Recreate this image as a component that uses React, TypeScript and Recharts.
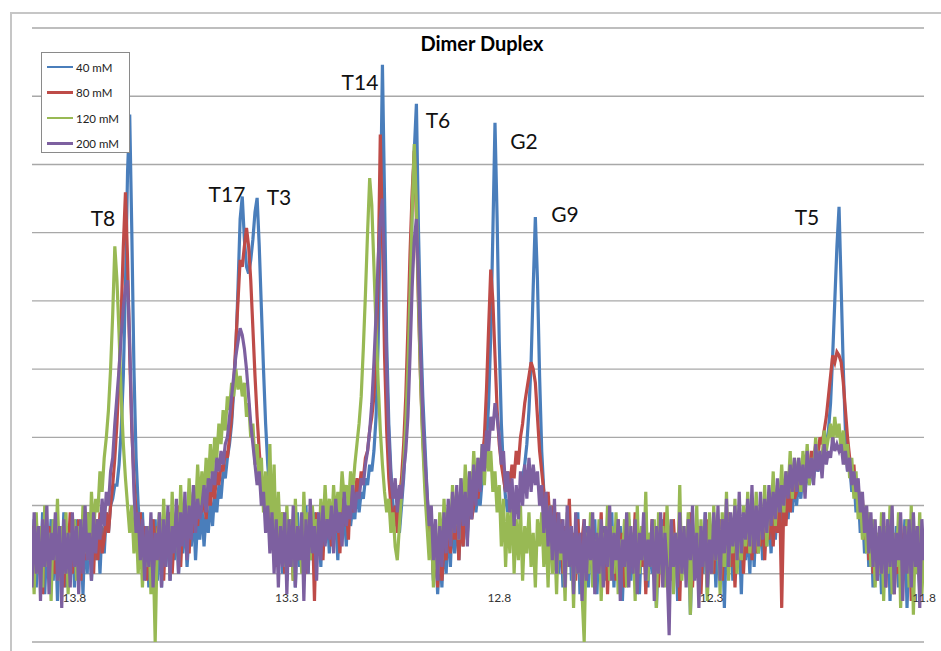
import { LineChart, Line, XAxis, YAxis, CartesianGrid } from 'recharts'

// chemical shift grid, ppm (13.900 -> 11.800, 0.005 step)
const shiftStart = 13.9
const shiftStep = 0.005

// intensities; each row covers 0.1 ppm
const c40 = [
  0.1, 0.8, -0.2, 0.6, 0.0, 0.9, -0.3, 0.5, 0.2, 0.8, -0.1, 0.7, -0.4, 0.6, 0.1, 0.9, -0.2, 0.5, 0.0, 0.7,
  -0.2, 0.8, 0.1, 0.6, -0.3, 0.7, 0.0, 0.9, -0.1, 0.6, 0.2, 0.8, 0.0, 0.7, 0.3, 0.9, 0.6, 1.0, 1.1, 1.3,
  1.3, 1.6, 2.1, 2.9, 4.2, 5.9, 6.73, 5.0, 3.0, 1.7, 1.0, 0.6, 0.9, 0.1, 0.7, -0.2, 0.6, 0.0, 0.8, -0.1,
  0.7, -0.2, 0.6, 0.1, 0.9, -0.1, 0.5, 0.2, 0.8, 0.0, 0.7, 0.3, 0.9, 0.1, 0.6, 0.4, 1.0, 0.2, 0.8, 0.5,
  1.0, 0.4, 0.9, 0.6, 1.1, 0.7, 1.2, 0.9, 1.3, 1.1, 1.5, 1.4, 1.7, 1.9, 2.2, 2.7, 3.3, 4.2, 5.2, 5.53,
  4.9, 4.5, 4.4, 4.6, 4.9, 5.3, 5.51, 4.8, 3.9, 3.0, 2.2, 1.6, 1.2, 0.9, 0.5, 0.9, 0.2, 0.8, 0.0, 0.7,
  -0.1, 0.8, 0.2, 0.7, -0.2, 0.9, 0.1, 0.6, 0.3, 1.0, 0.0, 0.7, 0.2, 0.9, 0.4, 0.8, 0.1, 1.0, 0.5, 0.9,
  0.3, 1.0, 0.5, 0.8, 0.2, 1.1, 0.6, 0.9, 0.4, 1.2, 0.7, 1.0, 0.8, 1.3, 0.9, 1.2, 1.1, 1.4, 1.3, 1.6,
  1.5, 1.8, 2.3, 3.4, 5.2, 7.46, 5.5, 3.4, 2.2, 1.5, 1.0, 0.7, 0.9, 0.6, 1.0, 1.4, 2.0, 2.8, 3.9, 5.4,
  6.2, 6.89, 5.0, 3.6, 2.6, 1.9, 1.2, 0.6, 0.6, -0.1, 0.5, -0.3, 0.4, -0.2, 0.6, 0.0, 0.8, 0.1, 0.9, 0.3,
  0.9, 0.2, 1.0, 0.4, 1.1, 0.5, 1.2, 0.8, 1.3, 0.9, 1.2, 1.0, 1.4, 1.6, 1.9, 2.5, 3.5, 5.0, 6.61, 5.2,
  3.4, 2.2, 1.5, 1.1, 0.9, 1.2, 0.8, 1.1, 0.9, 1.2, 1.1, 1.4, 1.6, 1.9, 2.4, 3.1, 4.2, 5.23, 4.3, 2.9,
  1.8, 1.2, 0.8, 1.0, 0.4, 0.9, 0.2, 0.8, 0.0, 0.7, -0.2, 0.6, 0.1, 0.8, -0.1, 0.5, 0.2, 0.9, -0.3, 0.6,
  0.0, 0.7, -0.2, 0.5, 0.1, 0.8, -0.3, 0.6, 0.2, 0.7, -0.1, 0.5, 0.0, 0.9, -0.2, 0.6, 0.1, 0.7, -0.4, 0.5,
  0.2, 0.8, -0.1, 0.6, 0.0, 0.7, -0.3, 0.5, 0.1, 0.9, -0.2, 0.6, 0.0, 0.7, -0.5, 0.4, 0.2, 0.8, -0.1, 0.6,
  -0.2, 0.7, 0.1, 0.5, -0.4, 0.8, 0.0, 0.6, 0.2, 0.7, -0.6, 0.5, 0.1, 0.8, -0.1, 0.6, 0.0, 0.9, -0.3, 0.5,
  0.1, 0.7, -0.2, 0.6, 0.0, 0.8, -0.5, 0.6, 0.2, 0.7, -0.1, 0.9, 0.1, 0.6, -0.3, 0.8, 0.2, 0.7, 0.0, 0.9,
  0.1, 0.8, 0.3, 0.9, 0.2, 1.0, 0.4, 0.9, 0.3, 1.1, 0.5, 1.0, 0.6, 1.2, 0.7, 1.1, 0.8, 1.3, 0.9, 1.4,
  1.0, 1.4, 1.1, 1.5, 1.2, 1.6, 1.3, 1.5, 1.4, 1.7, 1.5, 1.6, 1.7, 1.8, 1.9, 2.1, 2.5, 3.2, 4.0, 4.8,
  5.38, 4.2, 3.0, 2.1, 1.5, 1.6, 1.2, 1.4, 0.9, 1.2, 0.6, 1.0, 0.3, 0.9, 0.1, 0.8, -0.2, 0.7, 0.0, 0.6,
  -0.3, 0.6, 0.1, 0.8, -0.4, 0.5, 0.0, 0.7, -0.2, 0.6, 0.1, 0.8, -0.5, 0.4, -0.1, 0.7, 0.0, 0.5, -0.3, 0.6,
  0.2
]

const c80 = [
  0.7, -0.1, 0.8, 0.1, 0.6, -0.3, 0.9, 0.2, 0.7, -0.2, 0.5, 0.0, 0.8, 0.1, 0.6, -0.2, 0.7, 0.3, 0.9, 0.0,
  0.6, 0.1, 0.8, -0.1, 0.7, 0.2, 0.9, 0.3, 0.6, 0.0, 0.8, 0.2, 0.9, 0.3, 0.5, 0.9, 0.6, 1.0, 1.3, 1.7,
  2.2, 2.9, 3.8, 4.8, 5.59, 4.6, 3.2, 2.1, 1.4, 0.9, 0.5, 0.9, 0.1, 0.7, -0.1, 0.6, 0.2, 0.8, 0.0, 0.7,
  0.2, 0.8, -0.1, 0.7, 0.3, 0.9, 0.0, 0.6, 0.4, 1.0, 0.1, 0.8, 0.5, 0.9, 0.3, 1.0, 0.6, 1.1, 0.7, 1.2,
  0.9, 1.2, 0.8, 1.3, 1.0, 1.4, 1.1, 1.5, 1.3, 1.6, 1.5, 1.8, 1.7, 2.0, 2.3, 2.8, 3.4, 4.0, 4.6, 4.5,
  4.8, 5.07, 4.8, 4.3, 3.6, 2.9, 2.3, 1.8, 1.4, 1.0, 1.3, 0.7, 1.0, 0.4, 0.8, 0.1, 0.7, 0.2, 0.9, 0.0,
  0.8, 0.1, 0.7, -0.1, 0.9, 0.2, 0.6, 0.3, 1.0, 0.0, 0.7, 0.4, 0.8, -0.4, 0.9, 0.5, 0.7, 0.2, 1.0, 0.6,
  0.9, 0.4, 1.1, 0.6, 0.8, 0.3, 1.2, 0.7, 1.0, 0.5, 1.3, 0.9, 1.1, 1.4, 1.2, 1.5, 1.4, 1.7, 1.8, 2.1,
  2.3, 2.6, 3.2, 4.4, 6.44, 5.0, 3.2, 2.1, 1.4, 1.0, 0.7, 1.0, 0.6, 1.1, 1.4, 1.9, 2.6, 3.6, 4.7, 5.6,
  6.2, 5.2, 3.9, 2.8, 2.0, 1.4, 0.9, 0.4, 0.7, 0.0, 0.5, -0.2, 0.6, -0.1, 0.4, 0.2, 0.9, 0.3, 1.0, 0.5,
  0.8, 0.2, 0.9, 0.4, 1.1, 0.6, 1.2, 0.8, 1.0, 1.3, 1.1, 1.5, 1.7, 2.0, 2.7, 3.6, 4.46, 4.0, 3.2, 2.4,
  1.9, 1.6, 1.4, 1.2, 1.5, 1.3, 1.6, 1.4, 1.8, 1.6, 2.0, 2.2, 2.5, 2.7, 2.9, 3.1, 3.0, 2.8, 2.3, 1.8,
  1.5, 1.2, 1.0, 1.2, 0.7, 1.0, 0.4, 0.9, 0.2, 0.8, 0.0, 0.7, 0.3, 1.1, 0.1, 0.6, -0.1, 0.8, 0.2, 0.5,
  0.8, -0.1, 0.6, 0.2, 0.7, -0.2, 0.5, 0.1, 0.9, 0.0, 0.6, -0.3, 0.7, 0.2, 0.5, -0.1, 0.8, 0.1, 0.6, -0.2,
  0.7, 0.0, 0.5, 0.2, 0.9, -0.1, 0.6, 0.1, 0.7, -0.3, 0.5, 0.2, 0.8, 0.0, 0.6, -0.2, 0.7, 0.1, 0.9, 0.0,
  0.6, -0.1, 0.8, 0.2, 0.5, -0.4, 0.7, 0.1, 0.6, 0.0, 0.9, -0.2, 0.5, 0.2, 0.7, -0.3, 0.6, 0.1, 0.8, 0.0,
  0.5, 0.0, 0.7, 0.2, 0.8, -0.1, 0.6, 0.3, 0.9, 0.1, 0.7, -0.2, 0.6, 0.2, 0.8, 0.0, 0.7, 0.3, 1.0, 0.2,
  0.8, 0.3, 0.9, 0.4, 1.0, 0.2, 0.9, 0.5, 1.1, 0.4, 1.0, 0.6, 1.2, -0.5, 1.1, 0.7, 1.3, 0.9, 1.4, 1.1,
  1.2, 1.5, 1.3, 1.6, 1.4, 1.7, 1.5, 1.8, 1.6, 1.9, 1.7, 2.0, 1.9, 2.1, 2.3, 2.6, 2.9, 3.2, 3.1, 3.25,
  3.2, 3.1, 2.8, 2.4, 2.0, 1.7, 1.4, 1.6, 1.1, 1.3, 0.8, 1.1, 0.5, 0.9, 0.2, 0.8, 0.0, 0.7, -0.1, 0.6,
  0.2, 0.8, -0.2, 0.6, 0.1, 0.7, -0.3, 0.5, 0.0, 0.8, -0.1, 0.6, 0.2, 0.7, -0.4, 0.5, 0.1, 0.6, -0.2, 0.4,
  0.1
]

const c120 = [
  0.5, -0.3, 0.9, 0.0, 0.7, -0.2, 1.0, 0.1, 0.6, -0.4, 0.8, 0.2, 1.1, -0.1, 0.7, 0.0, 0.9, -0.3, 0.6, 0.2,
  0.8, -0.1, 0.7, 0.1, 1.0, 0.3, 0.9, 0.2, 1.2, 0.6, 1.1, 0.9, 1.5, 1.2, 1.7, 2.0, 2.4, 3.0, 3.8, 4.8,
  4.3, 3.5, 2.6, 1.9, 1.4, 1.0, 0.6, 1.0, 0.3, 0.8, 0.0, 0.6, -0.2, 0.5, 0.1, 0.7, -0.3, 0.4, -1.0, 0.5,
  0.9, 0.1, 1.1, 0.3, 0.8, 0.0, 1.2, 0.4, 0.9, 0.2, 1.3, 0.5, 1.0, 0.6, 1.4, 0.7, 1.2, 0.9, 1.6, 1.0,
  1.5, 1.1, 1.7, 1.3, 1.9, 1.4, 2.0, 1.7, 2.2, 1.9, 2.4, 2.1, 2.6, 2.4, 2.8, 2.6, 3.0, 2.7, 2.9, 2.6,
  2.8, 2.3, 2.5, 2.0, 2.2, 1.6, 1.9, 1.3, 1.7, 0.9, 1.5, 0.7, 1.9, 0.6, 1.6, 0.3, 1.2, 0.5, 0.9, 0.1,
  1.0, 0.2, 0.8, -0.1, 1.1, 0.3, 0.7, 0.0, 1.2, 0.4, 0.9, 0.2, 1.0, 0.5, 0.8, 0.3, 1.1, 0.6, 1.3, 0.7,
  1.1, 0.6, 1.3, 0.8, 1.2, 0.9, 1.5, 1.1, 1.3, 1.0, 1.5, 1.2, 1.6, 1.9, 2.2, 2.6, 3.3, 4.1, 5.0, 5.8,
  5.4, 4.5, 3.6, 2.8, 2.1, 1.6, 1.2, 0.9, 1.1, 0.6, 0.9, 0.4, 0.2, 0.7, 1.2, 1.6, 2.2, 3.0, 4.1, 5.3,
  6.3, 5.4, 4.0, 2.8, 1.9, 1.2, 0.7, 0.2, 0.8, -0.2, 0.6, 0.0, 0.9, 0.2, 1.1, 0.4, 1.0, 0.5, 1.3, 0.7,
  1.2, 0.5, 1.4, 0.8, 1.6, 0.9, 1.5, 1.1, 1.8, 1.2, 1.7, 1.4, 1.9, 1.3, 2.0, 1.5, 1.8, 1.2, 1.5, 0.9,
  1.3, 0.4, 1.1, 0.1, 0.9, 0.3, 1.2, 0.0, 0.8, 0.2, 1.0, -0.1, 0.7, 0.3, 0.9, 0.1, 0.6, -0.2, 0.8, 0.4,
  0.9, 0.1, 0.7, -0.2, 1.0, 0.0, 0.6, -0.3, 0.8, 0.2, 0.5, -0.4, 0.9, 0.1, 0.6, -0.5, 0.7, 0.0, 0.4, -0.3,
  -1.0, 0.6, 0.0, 0.9, -0.2, 0.5, 0.1, 0.8, -0.4, 0.6, 0.2, 1.0, -0.1, 0.7, 0.0, 0.9, -0.3, 0.5, 0.2, 0.8,
  -0.2, 0.9, 0.1, 0.6, -0.4, 1.0, 0.0, 0.7, 0.2, 1.2, -0.1, 0.6, 0.1, 0.8, -0.5, 0.9, 0.0, 0.7, -0.2, 1.0,
  0.1, 0.8, -0.3, 0.6, 0.0, 1.3, -0.1, 0.7, 0.2, 0.9, -0.6, 0.5, 0.0, 1.0, -0.2, 0.8, 0.1, 0.6, -0.4, 0.9,
  0.0, 1.0, 0.2, 0.7, -0.3, 0.9, 0.1, 1.2, -0.1, 0.8, 0.3, 1.1, 0.0, 0.7, 0.2, 1.0, 0.4, 1.2, 0.3, 0.9,
  0.5, 1.2, 0.3, 1.0, 0.6, 1.3, 0.4, 1.1, 0.8, 1.5, 0.7, 1.3, 1.0, 1.6, 0.9, 1.5, 1.2, 1.8, 1.1, 1.7,
  1.3, 1.7, 1.2, 1.8, 1.4, 1.9, 1.3, 1.7, 1.5, 2.0, 1.6, 1.8, 1.7, 2.1, 1.8, 2.0, 2.2, 1.9, 2.3, 2.0,
  2.2, 1.8, 2.1, 1.6, 1.9, 1.4, 1.7, 1.1, 1.5, 0.8, 1.2, 0.5, 1.0, 0.3, 0.9, 0.1, 0.8, -0.2, 0.6, 0.0,
  0.9, -0.4, 0.7, 0.0, 1.0, -0.3, 0.6, 0.1, 0.9, -0.5, 0.5, 0.2, 0.8, -0.2, 1.0, -0.6, 0.7, 0.0, 0.9, -0.3,
  0.4
]

const c200 = [
  -0.2, 0.9, 0.0, 0.7, -0.4, 0.8, 0.1, 1.0, -0.3, 0.6, 0.2, 0.9, -0.1, 0.7, -0.5, 0.8, 0.0, 0.6, -0.2, 0.9,
  0.1, 0.7, -0.3, 0.8, 0.0, 1.0, 0.2, 0.6, -0.1, 0.9, 0.3, 0.8, 0.5, 1.1, 0.7, 1.2, 1.0, 1.5, 1.7, 2.2,
  2.6, 3.0, 3.5, 3.9, 4.2, 4.3, 3.4, 2.2, 1.2, 0.6, 0.9, 0.2, 0.8, -0.1, 0.7, 0.1, 0.9, -0.2, 0.6, 0.2,
  0.9, -0.2, 0.8, 0.1, 1.0, -0.1, 0.7, 0.3, 1.1, 0.0, 0.9, 0.4, 1.2, 0.2, 1.0, 0.5, 1.3, 0.6, 1.1, 0.8,
  1.0, 1.3, 0.9, 1.4, 1.2, 1.5, 1.3, 1.7, 1.5, 1.8, 1.6, 1.9, 2.0, 2.3, 2.6, 2.9, 3.2, 3.4, 3.6, 3.5,
  3.3, 3.0, 2.6, 2.2, 1.9, 1.6, 1.3, 1.5, 1.0, 1.2, 0.6, 1.0, 0.3, 0.9, 0.0, 0.8, -0.2, 0.7, 0.1, 0.9,
  -0.3, 0.8, 0.1, 1.0, -0.2, 0.7, 0.2, 0.9, -0.4, 0.8, 0.0, 1.1, 0.3, 0.7, -0.1, 0.9, 0.2, 1.0, 0.4, 0.8,
  0.5, 1.0, 0.3, 1.1, 0.6, 0.9, 0.4, 1.2, 0.7, 1.0, 0.8, 1.3, 0.9, 1.2, 1.1, 1.4, 1.3, 1.6, 1.8, 2.1,
  2.5, 3.1, 3.8, 4.6, 5.2, 5.5, 4.4, 3.0, 2.0, 1.4, 1.1, 1.4, 0.9, 1.3, 1.1, 1.5, 1.8, 2.3, 3.2, 4.2,
  4.9, 5.2, 4.3, 3.2, 2.3, 1.7, 1.2, 0.7, 1.0, 0.2, 0.8, -0.1, 0.7, 0.1, 0.9, 0.3, 1.1, 0.4, 1.2, 0.6,
  1.3, 0.5, 1.4, 0.7, 1.2, 0.4, 1.5, 0.8, 1.6, 1.0, 1.7, 1.2, 1.9, 1.5, 2.1, 1.8, 2.3, 2.1, 2.5, 2.3,
  2.0, 1.6, 1.8, 1.2, 1.5, 0.9, 1.4, 0.7, 1.3, 0.8, 1.5, 1.0, 1.6, 1.1, 1.7, 1.2, 1.6, 1.3, 1.5, 1.0,
  1.3, 0.6, 1.2, 0.4, 1.0, 0.2, 1.1, 0.0, 0.9, 0.3, 0.8, -0.2, 1.0, 0.1, 0.7, -0.3, 0.9, 0.0, 0.6, -0.4,
  0.8, -0.1, 0.7, 0.2, 0.9, -0.3, 0.6, 0.0, 0.8, -0.2, 0.7, 0.1, 1.0, -0.1, 0.6, 0.2, 0.8, -0.4, 0.5, 0.1,
  0.9, -0.2, 0.7, 0.0, 0.8, -0.3, 0.6, 0.2, 0.9, -0.1, 0.5, 0.1, 0.8, -0.4, 0.7, 0.0, 0.9, -0.2, 0.6, 0.1,
  -0.9, 0.8, 0.1, 0.6, -0.2, 0.9, 0.0, 0.7, -0.2, 0.8, 0.2, 1.0, -0.1, 0.6, -0.5, 0.7, 0.1, 0.9, -0.2, 0.5,
  0.0, 0.9, 0.2, 1.0, -0.1, 0.8, 0.3, 1.1, 0.1, 0.9, 0.4, 1.0, 0.2, 1.2, 0.3, 0.9, 0.5, 1.1, 0.4, 1.3,
  0.3, 1.0, 0.4, 1.2, 0.5, 1.1, 0.6, 1.3, 0.7, 1.2, 0.8, 1.4, 0.9, 1.3, 1.0, 1.5, 1.1, 1.6, 1.2, 1.7,
  1.2, 1.7, 1.3, 1.6, 1.1, 1.8, 1.4, 1.7, 1.3, 1.9, 1.5, 1.8, 1.4, 1.9, 1.6, 1.8, 1.7, 2.0, 1.8, 1.9,
  1.8, 1.9, 1.6, 1.8, 1.5, 1.7, 1.3, 1.5, 1.2, 1.4, 0.9, 1.2, 0.6, 1.0, 0.3, 0.9, 0.1, 0.8, -0.1, 0.7,
  0.0, 0.9, -0.2, 0.8, 0.1, 1.0, -0.3, 0.6, 0.2, 0.9, -0.4, 0.7, 0.0, 0.8, -0.2, 0.9, 0.1, 0.7, -0.5, 0.8,
  0.2
]

const xTicks = [13.8, 13.3, 12.8, 12.3, 11.8]
const yTicks = [-1, 0, 1, 2, 3, 4, 5, 6, 7, 8]

const seriesNames = ['40 mM', '80 mM', '120 mM', '200 mM']
const seriesKeys = ['c40', 'c80', 'c120', 'c200']
const seriesColors = ['#4a7ebb', '#be4b48', '#98b954', '#7d60a0']

const peakLabels = [
  { text: 'T8', x: 103, y: 217 },
  { text: 'T17', x: 227, y: 193 },
  { text: 'T3', x: 279, y: 196 },
  { text: 'T14', x: 360, y: 81 },
  { text: 'T6', x: 438, y: 119 },
  { text: 'G2', x: 524, y: 140 },
  { text: 'G9', x: 565, y: 213 },
  { text: 'T5', x: 807, y: 216 }
]

const data = c40.map((v, i) => ({
  ppm: +(shiftStart - i * shiftStep).toFixed(3),
  c40: v,
  c80: c80[i],
  c120: c120[i],
  c200: c200[i]
}))

const W = 941
const H = 651
const margin = { top: 28, right: 17, bottom: 0, left: 32 }
const axisH = 9
const plotH = H - margin.top - margin.bottom - axisH
const zeroY = margin.top + (plotH * 8) / 9

const font = 'Lato, "Open Sans", sans-serif'

const renderTick = (props: any) => {
  const { x, payload } = props
  return (
    <text x={x} y={zeroY + 28} textAnchor="middle" fontSize={12} fill="#333" fontFamily={font}>
      {Number(payload.value).toFixed(1)}
    </text>
  )
}

export default function App() {
  return (
    <div style={{ position: 'absolute', left: 0, top: 0, width: W, height: H, background: '#fff', overflow: 'hidden' }}>
      <div
        style={{
          position: 'absolute',
          left: 10,
          top: 12,
          width: 1000,
          height: 700,
          border: '2px solid #c6c6c6'
        }}
      />
      <div style={{ position: 'absolute', left: 0, top: 0 }}>
        <LineChart width={W} height={H} data={data} margin={margin}>
          <CartesianGrid vertical={false} stroke="#a8a8a8" strokeWidth={1.4} />
          <XAxis
            dataKey="ppm"
            type="number"
            domain={[11.8, 13.9]}
            reversed
            ticks={xTicks}
            interval={0}
            height={axisH}
            axisLine={false}
            tickLine={false}
            tick={renderTick}
            allowDataOverflow
          />
          <YAxis hide domain={[-1, 8]} ticks={yTicks} allowDataOverflow />
          {seriesKeys.map((k, i) => (
            <Line
              key={k}
              dataKey={k}
              stroke={seriesColors[i]}
              strokeWidth={3.2}
              dot={false}
              type="linear"
              isAnimationActive={false}
            />
          ))}
        </LineChart>
      </div>
      <div
        style={{
          position: 'absolute',
          left: 0,
          width: 941,
          top: 31,
          textAlign: 'center',
          paddingLeft: 23,
          boxSizing: 'border-box',
          fontFamily: font,
          fontWeight: 700,
          fontSize: 20
        }}
      >
        Dimer Duplex
      </div>
      {peakLabels.map((p) => (
        <div
          key={p.text}
          style={{
            position: 'absolute',
            left: p.x,
            top: p.y,
            transform: 'translate(-50%, -50%)',
            fontFamily: font,
            fontSize: 21,
            color: '#111',
            lineHeight: 1
          }}
        >
          {p.text}
        </div>
      ))}
      <div
        style={{
          position: 'absolute',
          left: 41,
          top: 52,
          width: 89,
          height: 101,
          border: '1px solid #8a8a8a',
          background: '#fff',
          boxSizing: 'border-box'
        }}
      >
        {seriesNames.map((n, i) => (
          <div
            key={n}
            style={{ position: 'absolute', left: 5, top: 7 + i * 25.5, display: 'flex', alignItems: 'center', height: 14 }}
          >
            <div style={{ width: 26, height: 2.6, background: seriesColors[i] }} />
            <span style={{ marginLeft: 3, fontFamily: font, fontSize: 11.5, color: '#222' }}>{n}</span>
          </div>
        ))}
      </div>
    </div>
  )
}
